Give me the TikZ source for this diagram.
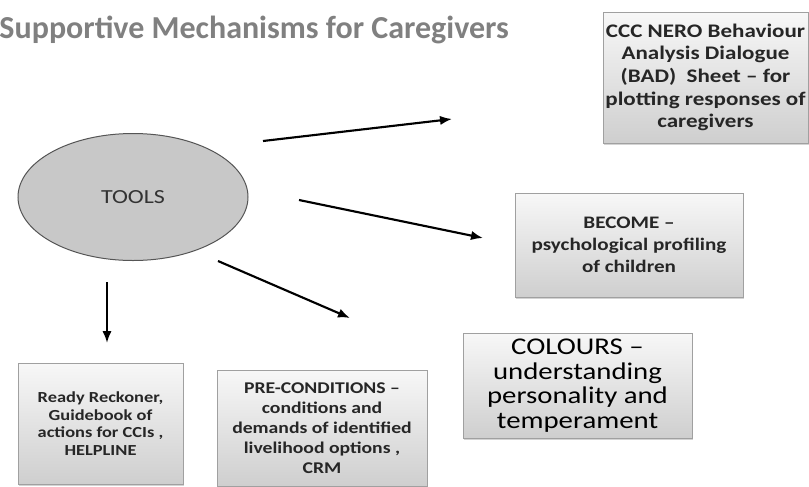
\documentclass[tikz,border=0pt]{standalone}
\usepackage{fontspec}
\setmainfont{Carlito}
\newfontfamily\widefont[FakeStretch=1.2,Ligatures=TeX]{Carlito}
\usetikzlibrary{shapes.geometric,arrows.meta,shadows}

\tikzset{every picture/.style={line width=0.75pt}}
\tikzset{
  toolbox/.style={draw={rgb,255:red,160;green,160;blue,160}, top color=gray!6, bottom color=gray!38,
    align=center, inner sep=0pt, text=black!85,
    drop shadow={shadow xshift=0.8pt, shadow yshift=-1.2pt, opacity=0.35}},
  fwd/.style={line width=1.6pt, -{Latex[length=9pt,width=7pt]}}
}

\begin{document}
\begin{tikzpicture}[x=0.75pt,y=0.75pt,yscale=-1,xscale=1]
	\useasboundingbox (0,0) rectangle (809,486);

	% Text Node
	\node (title) [anchor=west, inner sep=0pt, text={rgb,255:red,128;green,128;blue,128}, font=\fontsize{24}{28}\selectfont\bfseries] at (-1,30) {Supportive Mechanisms for Caregivers};

	%Shape: Ellipse
	\node (tools) [ellipse, draw={rgb,255:red,85;green,85;blue,85}, fill={rgb,255:red,200;green,200;blue,200}, minimum width=172.5pt, minimum height=95.25pt, inner sep=0pt, font=\widefont\fontsize{15}{17}\selectfont, text=black!80] at (133,197) {TOOLS};

	%Shape: Rectangle
	\node (bad) [toolbox, minimum width=153.75pt, minimum height=98.25pt, font=\widefont\fontsize{14.4}{17}\selectfont\bfseries] at (705.5,77.5) {CCC NERO Behaviour\\Analysis Dialogue\\(BAD)\ \ Sheet -- for\\plotting responses of\\caregivers};
	%Shape: Rectangle
	\node (become) [toolbox, minimum width=171pt, minimum height=78pt, font=\widefont\fontsize{13.2}{16.5}\selectfont\bfseries] at (629,245) {BECOME --\\psychological profiling\\of children};
	%Shape: Rectangle
	\node (colours) [toolbox, minimum width=171.75pt, minimum height=78.75pt, font=\widefont\fontsize{18}{18.4}\selectfont, text=black] at (577.5,385.5) {COLOURS --\\understanding\\personality and\\temperament};
	%Shape: Rectangle
	\node (ready) [toolbox, minimum width=123.75pt, minimum height=90.75pt, font=\widefont\fontsize{11.5}{13.3}\selectfont\bfseries] at (100.5,423.5) {Ready Reckoner,\\Guidebook of\\actions for CCIs ,\\HELPLINE};
	%Shape: Rectangle
	\node (precond) [toolbox, minimum width=157.5pt, minimum height=87pt, font=\widefont\fontsize{12.3}{15}\selectfont\bfseries] at (322,428) {PRE-CONDITIONS --\\conditions and\\demands of identified\\livelihood options ,\\CRM};

	% arrow ends
	\coordinate (a1s) at (263,141);
	\coordinate (a1e) at (452,119);
	\coordinate (a2s) at (299,200);
	\coordinate (a2e) at (483,238);
	\coordinate (a3s) at (218,261);
	\coordinate (a3e) at (350,318);
	\coordinate (a4s) at (107,282);
	\coordinate (a4e) at (107,343);

	%Straight Lines
	\draw [fwd] (a1s) -- (a1e);
	%Straight Lines
	\draw [fwd] (a2s) -- (a2e);
	%Straight Lines
	\draw [fwd] (a3s) -- (a3e);
	%Straight Lines
	\draw [fwd] (a4s) -- (a4e);

\end{tikzpicture}
\end{document}
